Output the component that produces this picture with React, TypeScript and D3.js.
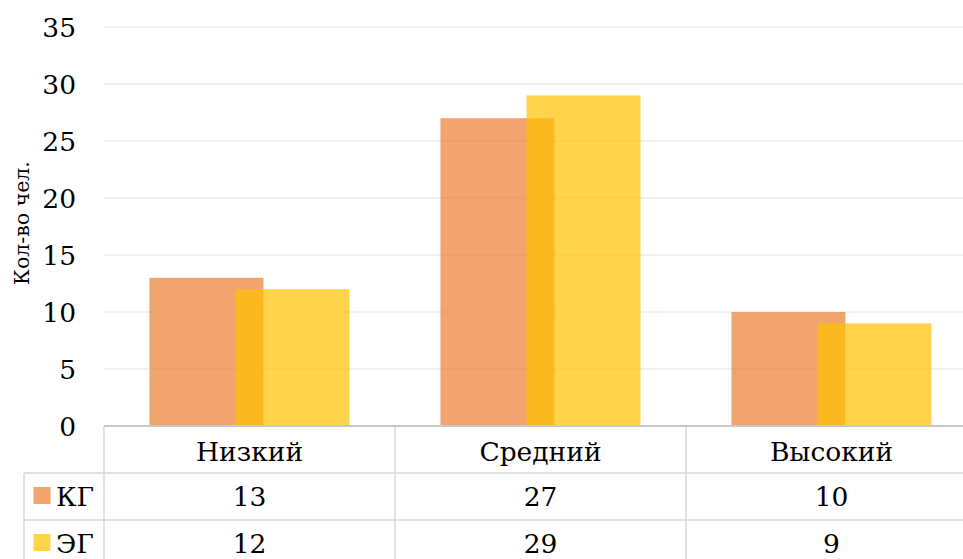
import React, { useEffect, useRef } from 'react';
import * as d3 from 'd3';

const categories = ['Низкий', 'Средний', 'Высокий'];
const seriesNames = ['КГ', 'ЭГ'];
const kgValues = [13, 27, 10];
const egValues = [12, 29, 9];
const yTicks = [0, 5, 10, 15, 20, 25, 30, 35];
const colors = ['#ED7D31', '#FFC000'];

function App() {
  const svgRef = useRef<SVGSVGElement>(null);

  useEffect(() => {
    const width = 963;
    const height = 559;
    const plotLeft = 104;
    const plotTop = 27;
    const plotBottom = 426;
    const fs = 26.5;

    const svg = d3.select(svgRef.current)
      .attr('width', width)
      .attr('height', height)
      .style('font-family', "'DejaVu Serif', serif");
    svg.selectAll('*').remove();

    const x = d3.scaleBand()
      .domain(categories)
      .range([plotLeft, plotLeft + 291 * 3])
      .padding(0);

    const y = d3.scaleLinear()
      .domain([0, 35])
      .range([plotBottom, plotTop]);

    // gridlines
    svg.append('g')
      .selectAll('line')
      .data(yTicks.filter(d => d > 0))
      .enter().append('line')
      .attr('x1', plotLeft)
      .attr('x2', width)
      .attr('y1', d => y(d))
      .attr('y2', d => y(d))
      .attr('stroke', '#ececec')
      .attr('stroke-width', 1.5);

    // y labels
    svg.append('g')
      .selectAll('text')
      .data(yTicks)
      .enter().append('text')
      .attr('x', 76)
      .attr('y', d => y(d))
      .attr('dy', '0.36em')
      .attr('text-anchor', 'end')
      .style('font-size', fs + 'px')
      .attr('fill', '#000')
      .text(d => d);

    svg.append('text')
      .attr('transform', `translate(29,223) rotate(-90)`)
      .attr('text-anchor', 'middle')
      .style('font-size', '20.5px')
      .attr('fill', '#000')
      .text('Кол-во чел.');

    // bars
    const bw = x.bandwidth();
    const barW = bw * 114 / 291;
    const step = barW * 0.755;
    const groupW = barW + step;
    const series = [kgValues, egValues];

    series.forEach((vals, si) => {
      svg.append('g')
        .selectAll('rect')
        .data(vals)
        .enter().append('rect')
        .attr('x', (d, i) => x(categories[i])! + (bw - groupW) / 2 + si * step)
        .attr('y', d => y(d))
        .attr('width', barW)
        .attr('height', d => plotBottom - y(d))
        .attr('fill', colors[si])
        .attr('fill-opacity', 0.7);
    });

    // data table
    const rowH = 47;
    const tableTop = plotBottom;
    const grid = svg.append('g')
      .attr('stroke', '#d9d9d9')
      .attr('stroke-width', 1.5)
      .attr('fill', 'none');

    grid.append('line')
      .attr('x1', 24).attr('x2', width)
      .attr('y1', tableTop + rowH).attr('y2', tableTop + rowH);
    grid.append('line')
      .attr('x1', 24).attr('x2', width)
      .attr('y1', tableTop + rowH * 2).attr('y2', tableTop + rowH * 2);
    grid.append('line')
      .attr('x1', 24).attr('x2', 24)
      .attr('y1', tableTop + rowH).attr('y2', height);

    const boundaries = categories.map(c => x(c)!);
    grid.selectAll('.vline')
      .data(boundaries)
      .enter().append('line')
      .attr('x1', d => d).attr('x2', d => d)
      .attr('y1', tableTop).attr('y2', height);

    // axis line
    svg.append('line')
      .attr('x1', plotLeft).attr('x2', width)
      .attr('y1', plotBottom).attr('y2', plotBottom)
      .attr('stroke', '#c8c8c8')
      .attr('stroke-width', 2);

    // category labels
    svg.append('g')
      .selectAll('text')
      .data(categories)
      .enter().append('text')
      .attr('x', d => x(d)! + bw / 2)
      .attr('y', tableTop + rowH / 2 + 2)
      .attr('dy', '0.36em')
      .attr('text-anchor', 'middle')
      .style('font-size', fs + 'px')
      .text(d => d);

    // value rows
    series.forEach((vals, si) => {
      const cy = tableTop + rowH * (si + 1) + rowH / 2;
      svg.append('g')
        .selectAll('text')
        .data(vals)
        .enter().append('text')
        .attr('x', (d, i) => x(categories[i])! + bw / 2)
        .attr('y', cy)
        .attr('dy', '0.36em')
        .attr('text-anchor', 'middle')
        .style('font-size', fs + 'px')
        .text(d => d);

      svg.append('rect')
        .attr('x', 33.5)
        .attr('y', cy - 9.5)
        .attr('width', 17)
        .attr('height', 17)
        .attr('fill', colors[si])
        .attr('fill-opacity', 0.7);

      svg.append('text')
        .attr('x', 56)
        .attr('y', cy)
        .attr('dy', '0.36em')
        .style('font-size', fs + 'px')
        .text(seriesNames[si]);
    });
  }, []);

  return (
    <svg ref={svgRef} style={{ position: 'absolute', left: 0, top: 0, background: '#fff' }}></svg>
  );
}

export default App;
